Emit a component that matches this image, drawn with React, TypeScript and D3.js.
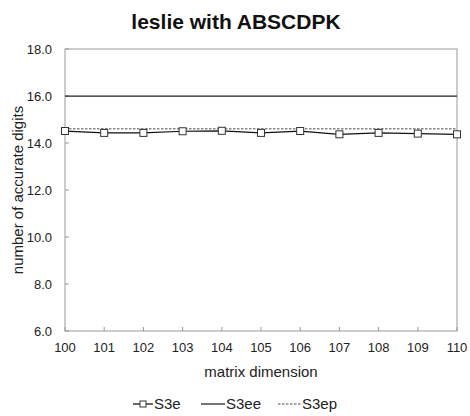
import React, { useEffect, useRef } from 'react';
import * as d3 from 'd3';

const dims = [100, 101, 102, 103, 104, 105, 106, 107, 108, 109, 110];
const s3e = [14.51, 14.43, 14.43, 14.5, 14.52, 14.43, 14.51, 14.37, 14.43, 14.4, 14.37];
const s3ee = [16, 16, 16, 16, 16, 16, 16, 16, 16, 16, 16];
const s3ep = [14.61, 14.61, 14.61, 14.61, 14.61, 14.61, 14.61, 14.61, 14.61, 14.61, 14.61];
const yTicks = [6, 8, 10, 12, 14, 16, 18];

const App = () => {
  const ref = useRef<SVGSVGElement>(null);

  useEffect(() => {
    const svg = d3.select(ref.current);
    svg.selectAll('*').remove();
    const font = 'Liberation Sans, Arial, sans-serif';
    const left = 65, right = 457, top = 49, bottom = 331;

    const x = d3.scalePoint<number>().domain(dims).range([left, right]);
    const y = d3.scaleLinear().domain([6, 18]).range([bottom, top]);

    svg.append('rect').attr('width', 470).attr('height', 416).attr('fill', '#fff');

    svg.append('text').attr('x', 236).attr('y', 29).attr('text-anchor', 'middle')
      .attr('font-family', font).attr('font-weight', 'bold').attr('font-size', 21)
      .attr('fill', '#111').text('leslie with ABSCDPK');

    // plot frame
    svg.append('rect').attr('x', left).attr('y', top).attr('width', right - left)
      .attr('height', bottom - top).attr('fill', 'none').attr('stroke', '#999').attr('stroke-width', 1);

    // y ticks
    svg.selectAll('.yt').data(yTicks).enter().append('line')
      .attr('x1', left).attr('x2', left + 4)
      .attr('y1', (d) => y(d)).attr('y2', (d) => y(d)).attr('stroke', '#999');
    svg.selectAll('.yl').data(yTicks).enter().append('text')
      .attr('x', 52).attr('y', (d) => y(d) + 4.5).attr('text-anchor', 'end')
      .attr('font-family', font).attr('font-size', 13).attr('fill', '#222')
      .text((d) => d.toFixed(1));

    // x ticks
    svg.selectAll('.xt').data(dims).enter().append('line')
      .attr('x1', (d) => x(d)!).attr('x2', (d) => x(d)!)
      .attr('y1', bottom).attr('y2', bottom - 4).attr('stroke', '#999');
    svg.selectAll('.xl').data(dims).enter().append('text')
      .attr('x', (d) => x(d)!).attr('y', bottom + 21).attr('text-anchor', 'middle')
      .attr('font-family', font).attr('font-size', 13).attr('fill', '#222')
      .text((d) => d);

    svg.append('text').attr('x', 261).attr('y', 377).attr('text-anchor', 'middle')
      .attr('font-family', font).attr('font-size', 15).attr('fill', '#222').text('matrix dimension');
    svg.append('text').attr('transform', 'translate(23,190) rotate(-90)').attr('text-anchor', 'middle')
      .attr('font-family', font).attr('font-size', 15).attr('fill', '#222').text('number of accurate digits');

    const line = d3.line<number>().x((_, i) => x(dims[i])!).y((d) => y(d));

    svg.append('path').datum(s3ep).attr('d', line).attr('fill', 'none')
      .attr('stroke', '#888').attr('stroke-width', 1.5).attr('stroke-dasharray', '2.5,1.5');
    svg.append('path').datum(s3ee).attr('d', line).attr('fill', 'none')
      .attr('stroke', '#222').attr('stroke-width', 1.25);
    svg.append('path').datum(s3e).attr('d', line).attr('fill', 'none')
      .attr('stroke', '#111').attr('stroke-width', 1.25);
    svg.selectAll('.m').data(s3e).enter().append('rect')
      .attr('x', (_, i) => x(dims[i])! - 3.5).attr('y', (d) => y(d) - 3.5)
      .attr('width', 7).attr('height', 7).attr('fill', '#fff').attr('stroke', '#333').attr('stroke-width', 1);

    // legend
    const ly = 404;
    const lg = svg.append('g');
    lg.append('line').attr('x1', 133).attr('x2', 153).attr('y1', ly).attr('y2', ly).attr('stroke', '#111').attr('stroke-width', 1.25);
    lg.append('rect').attr('x', 140).attr('y', ly - 3).attr('width', 6).attr('height', 6).attr('fill', '#fff').attr('stroke', '#333');
    lg.append('text').attr('x', 154).attr('y', ly + 5).attr('font-family', font).attr('font-size', 15).attr('fill', '#222').text('S3e');
    lg.append('line').attr('x1', 201).attr('x2', 225).attr('y1', ly).attr('y2', ly).attr('stroke', '#222').attr('stroke-width', 1.25);
    lg.append('text').attr('x', 226).attr('y', ly + 5).attr('font-family', font).attr('font-size', 15).attr('fill', '#222').text('S3ee');
    lg.append('line').attr('x1', 278).attr('x2', 301).attr('y1', ly).attr('y2', ly).attr('stroke', '#888').attr('stroke-width', 1.5).attr('stroke-dasharray', '2.5,1.5');
    lg.append('text').attr('x', 302).attr('y', ly + 5).attr('font-family', font).attr('font-size', 15).attr('fill', '#222').text('S3ep');
  }, []);

  return <svg ref={ref} width={470} height={416} style={{ position: 'absolute', left: 0, top: 0 }} />;
};

export default App;
